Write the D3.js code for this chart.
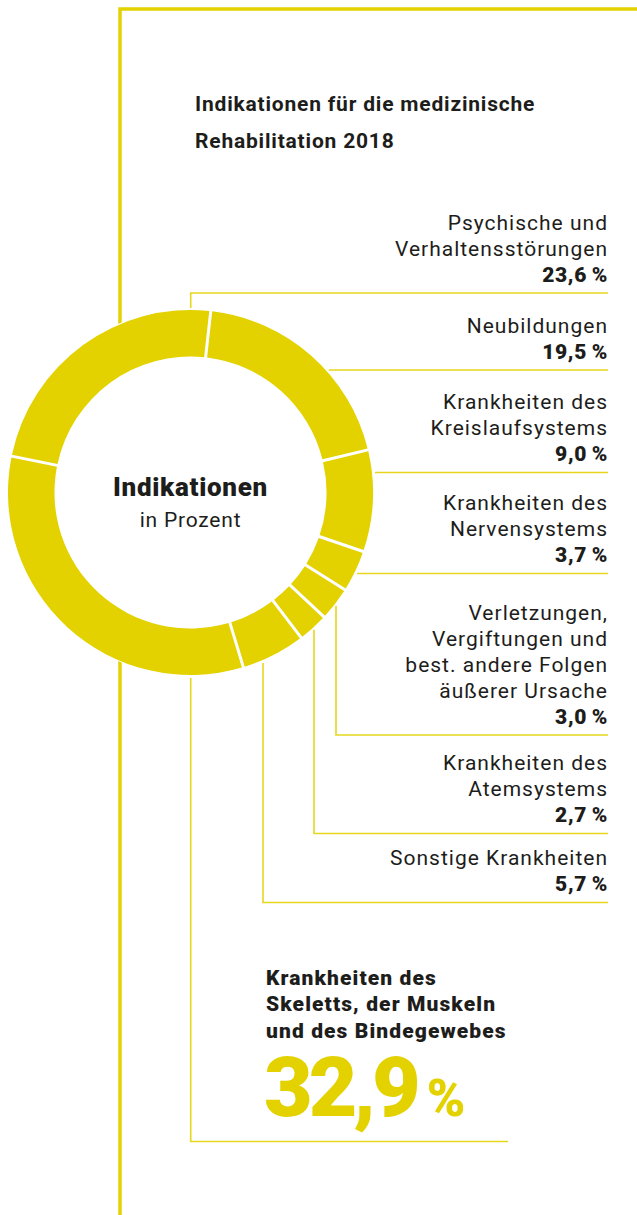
<!DOCTYPE html>
<meta charset="utf-8">
<style>
body { margin: 0; background: #fff; }
text { font-family: Roboto, "Noto Sans", sans-serif; fill: #1d1d1b; }
.lbl { font-size: 21px; letter-spacing: 1px; }
.val { font-size: 21px; font-weight: 900; letter-spacing: 0.6px; }
.lead { fill: none; stroke: #e6d71c; stroke-width: 1.6; }
.frame { stroke: #e3d200; stroke-width: 3.5; fill: none; }
</style>
<body>
<script src="https://cdn.jsdelivr.net/npm/d3@7"></script>
<script>

// data
var categories = ["Psychische und Verhaltensstörungen", "Neubildungen",
  "Krankheiten des Kreislaufsystems", "Krankheiten des Nervensystems",
  "Verletzungen, Vergiftungen und best. andere Folgen äußerer Ursache",
  "Krankheiten des Atemsystems", "Sonstige Krankheiten",
  "Krankheiten des Skeletts, der Muskeln und des Bindegewebes"];
var values = [23.6, 19.5, 9.0, 3.7, 3.0, 2.7, 5.7, 32.9];
var labelLines = [
  ["Psychische und", "Verhaltensstörungen"],
  ["Neubildungen"],
  ["Krankheiten des", "Kreislaufsystems"],
  ["Krankheiten des", "Nervensystems"],
  ["Verletzungen,", "Vergiftungen und", "best. andere Folgen", "äußerer Ursache"],
  ["Krankheiten des", "Atemsystems"],
  ["Sonstige Krankheiten"],
  ["Krankheiten des", "Skeletts, der Muskeln", "und des Bindegewebes"]
];
var title = ["Indikationen für die medizinische", "Rehabilitation 2018"];

// layout
var W = 637, H = 1215;
var cx = 190.5, cy = 492.5, rOut = 182.5, rIn = 136;
var yellow = "#e3d200";
var textRight = 608;
// underline y of each right label, and elbow x (null = horizontal only)
var lineY = [293, 370, 472.5, 573.5, 735, 833.5, 902.5];
var elbowX = [190.7, null, null, null, 336, 314, 263];

var fmt = function(v) { return d3.format(".1f")(v).replace(".", ","); };

var svg = d3.select("body").append("svg")
    .attr("width", W)
    .attr("height", H);

// frame lines
svg.append("path").attr("class", "frame")
    .attr("d", "M120,1215V9H637");

// leaders
var lead = svg.append("g");
for (var i = 0; i < lineY.length; i++) {
  var y = lineY[i], d;
  if (elbowX[i] === null) {
    var x0 = cx + Math.sqrt(rOut * rOut - (y - cy) * (y - cy)) + 3;
    d = "M" + x0 + "," + y + "H" + textRight;
  } else {
    var dy = Math.sqrt(rOut * rOut - (elbowX[i] - cx) * (elbowX[i] - cx));
    var y0 = y < cy ? cy - dy - 2 : cy + dy + 3;
    d = "M" + elbowX[i] + "," + y0 + "V" + y + "H" + textRight;
  }
  lead.append("path").attr("class", "lead").attr("d", d);
}
// main category leader
var dyS = Math.sqrt(rOut * rOut - (190.7 - cx) * (190.7 - cx));
lead.append("path").attr("class", "lead")
    .attr("d", "M190.7," + (cy + dyS + 3) + "V1141.5H508");

// donut
var pie = d3.pie().sort(null)
    .startAngle(-78.5 * Math.PI / 180)
    .endAngle(-78.5 * Math.PI / 180 + 2 * Math.PI);
var arc = d3.arc().innerRadius(rIn).outerRadius(rOut)
    .padAngle(0.03).padRadius(100);

var g = svg.append("g").attr("transform", "translate(" + cx + "," + cy + ")");
g.append("circle").attr("r", rOut + 1).attr("fill", "#fff");
g.selectAll("path")
    .data(pie(values))
  .enter().append("path")
    .attr("d", arc)
    .attr("fill", yellow);

// center text
g.append("text").attr("text-anchor", "middle").attr("y", 3.2)
    .style("font-size", "26px").style("font-weight", 900).style("letter-spacing", "0.7px")
    .text("Indikationen");
g.append("text").attr("text-anchor", "middle").attr("y", 34.2)
    .style("font-size", "21px").style("letter-spacing", "0.8px")
    .text("in Prozent");

// title
svg.selectAll(".title")
    .data(title)
  .enter().append("text")
    .attr("class", "title")
    .attr("x", 195)
    .attr("y", function(d, i) { return 110.7 + i * 37.6; })
    .style("font-size", "21px").style("font-weight", 700).style("letter-spacing", "0.8px")
    .text(function(d) { return d; });

// right labels
for (var j = 0; j < lineY.length; j++) {
  var vy = lineY[j] - 11.5;
  var lines = labelLines[j];
  lines.forEach(function(t, k) {
    svg.append("text").attr("class", "lbl")
        .attr("x", textRight).attr("text-anchor", "end")
        .attr("y", vy - 26 * (lines.length - k))
        .text(t);
  });
  svg.append("text").attr("class", "val")
      .attr("x", textRight).attr("text-anchor", "end")
      .attr("y", vy)
      .text(fmt(values[j]) + "\u2009%");
}

// main category
var last = values.length - 1;
labelLines[last].forEach(function(t, k) {
  svg.append("text")
      .attr("x", 266).attr("y", 985 + k * 26.3)
      .style("font-size", "21px").style("font-weight", 900).style("letter-spacing", "1.1px")
      .text(t);
});
var big = svg.append("text").attr("x", 264).attr("y", 1115.7)
    .style("fill", yellow).style("font-weight", 900);
big.append("tspan").style("font-size", "84px").style("letter-spacing", "-4px")
    .text(fmt(values[last]));
big.append("tspan").attr("dx", 10).style("font-size", "52px")
    .text("%");

</script>
</body>
